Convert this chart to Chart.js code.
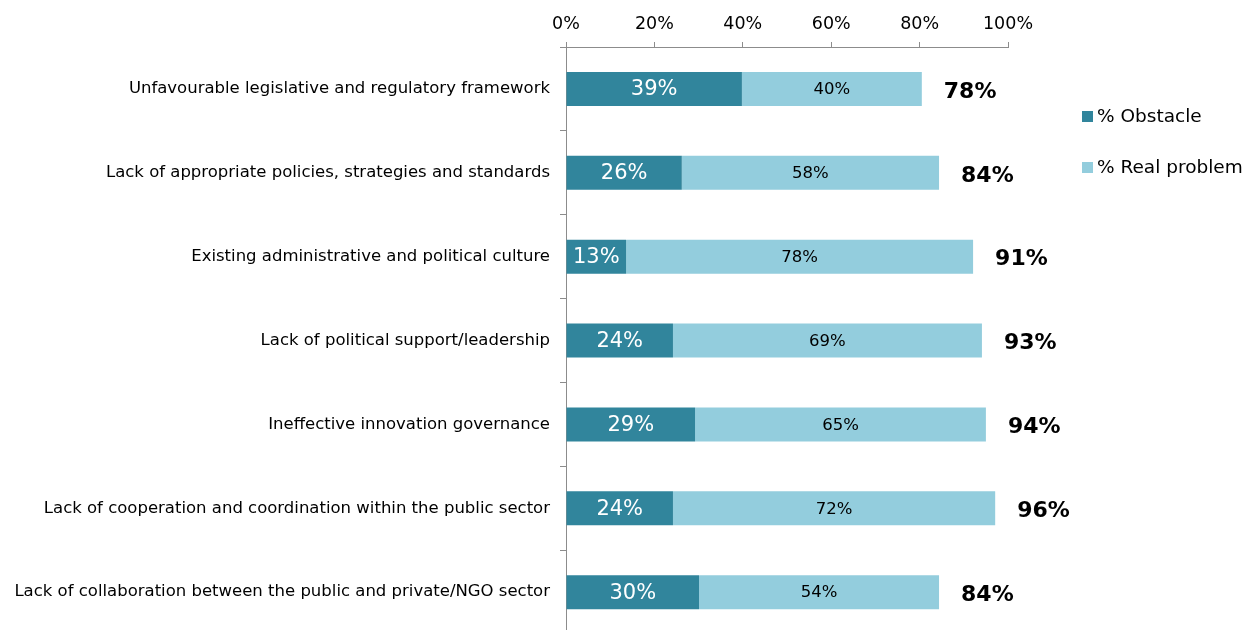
<!DOCTYPE html>
<html>
<head>
<meta charset="utf-8">
<script src="https://cdn.jsdelivr.net/npm/chart.js@4.4.1/dist/chart.umd.min.js"></script>
<style>
  html, body { margin: 0; padding: 0; background: #fff; overflow: hidden; }
  #wrap { width: 1248px; height: 654px; }
</style>
</head>
<body>
<div id="wrap"><canvas id="chart" width="1248" height="654"></canvas></div>
<script>
const categories = [
    'Unfavourable legislative and regulatory framework',
    'Lack of appropriate policies, strategies and standards',
    'Existing administrative and political culture',
    'Lack of political support/leadership',
    'Ineffective innovation governance',
    'Lack of cooperation and coordination within the public sector',
    'Lack of collaboration between the public and private/NGO sector'
];
const obstacle = [39.8, 26.2, 13.6, 24.2, 29.2, 24.2, 30.1];
const realProblem = [40.7, 58.2, 78.5, 69.9, 65.8, 72.9, 54.3];
const obstacleLabels = ['39%', '26%', '13%', '24%', '29%', '24%', '30%'];
const realLabels = ['40%', '58%', '78%', '69%', '65%', '72%', '54%'];
const totalLabels = ['78%', '84%', '91%', '93%', '94%', '96%', '84%'];
const seriesNames = ['% Obstacle', '% Real problem'];
const xTickValues = [0, 20, 40, 60, 80, 100];

const darkColor = '#31859c';
const lightColor = '#93cddd';
const axisColor = '#8c8c8c';
const fontFamily = '"DejaVu Sans", Verdana, sans-serif';

// labels inside the bars and the totals after them
const barLabels = {
    id: 'barLabels',
    afterDatasetsDraw(chart) {
        const ctx = chart.ctx;
        ctx.save();
        ctx.textBaseline = 'middle';
        ctx.textAlign = 'center';
        const darkMeta = chart.getDatasetMeta(0);
        const lightMeta = chart.getDatasetMeta(1);
        darkMeta.data.forEach((bar, i) => {
            ctx.font = '21px ' + fontFamily;
            ctx.fillStyle = '#ffffff';
            ctx.fillText(obstacleLabels[i], (bar.x + bar.base) / 2, bar.y + 1);
        });
        lightMeta.data.forEach((bar, i) => {
            ctx.font = '16.5px ' + fontFamily;
            ctx.fillStyle = '#000000';
            ctx.fillText(realLabels[i], (bar.x + bar.base) / 2, bar.y + 1);
            ctx.font = 'bold 22px ' + fontFamily;
            ctx.textAlign = 'left';
            ctx.fillText(totalLabels[i], bar.x + 22, bar.y + 3);
            ctx.textAlign = 'center';
        });
        ctx.restore();
    }
};

// legend on the right, near the top
const sideLegend = {
    id: 'sideLegend',
    afterDraw(chart) {
        const ctx = chart.ctx;
        const colors = [darkColor, lightColor];
        ctx.save();
        ctx.font = '18.5px ' + fontFamily;
        ctx.textBaseline = 'middle';
        ctx.textAlign = 'left';
        seriesNames.forEach((name, i) => {
            const y = 117 + i * 51;
            ctx.fillStyle = colors[i];
            ctx.fillRect(1082, y - 6, 11, 11);
            ctx.fillStyle = '#000000';
            ctx.fillText(name, 1097, y);
        });
        ctx.restore();
    }
};

new Chart(document.getElementById('chart').getContext('2d'), {
    type: 'bar',
    data: {
        labels: categories,
        datasets: [
            {
                label: seriesNames[0],
                data: obstacle,
                backgroundColor: darkColor,
                borderWidth: 0,
                categoryPercentage: 1,
                barPercentage: 0.405
            },
            {
                label: seriesNames[1],
                data: realProblem,
                backgroundColor: lightColor,
                borderWidth: 0,
                categoryPercentage: 1,
                barPercentage: 0.405
            }
        ]
    },
    options: {
        indexAxis: 'y',
        responsive: false,
        animation: false,
        devicePixelRatio: 1,
        layout: { padding: { top: 0, right: 240, bottom: 3, left: 0 } },
        plugins: {
            legend: { display: false },
            tooltip: { enabled: false }
        },
        scales: {
            x: {
                position: 'top',
                stacked: true,
                min: 0,
                max: 100,
                afterBuildTicks: scale => {
                    scale.ticks = xTickValues.map(v => ({ value: v }));
                },
                afterFit: scale => { scale.height = 47; },
                ticks: {
                    color: '#000',
                    font: { family: fontFamily, size: 17.5 },
                    padding: 7,
                    callback: v => v + '%'
                },
                grid: {
                    drawOnChartArea: false,
                    tickLength: 5,
                    color: axisColor
                },
                border: { display: true, color: axisColor }
            },
            y: {
                stacked: true,
                afterFit: scale => { scale.width = 566; },
                ticks: {
                    color: '#000',
                    font: { family: fontFamily, size: 16.5 },
                    padding: 10
                },
                grid: {
                    offset: true,
                    drawOnChartArea: false,
                    tickLength: 6,
                    color: axisColor
                },
                border: { display: true, color: axisColor }
            }
        }
    },
    plugins: [barLabels, sideLegend]
});
</script>
</body>
</html>
